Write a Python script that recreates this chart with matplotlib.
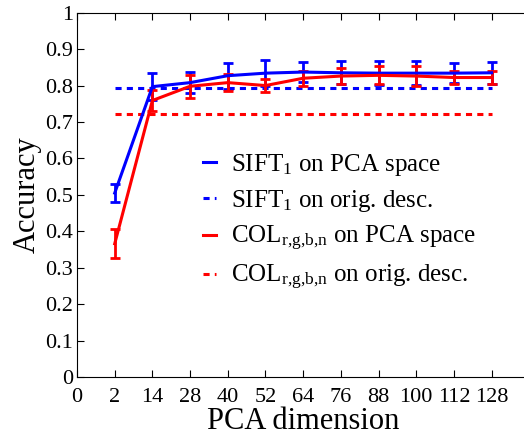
import numpy as np
from matplotlib import pyplot as plt
from matplotlib.lines import Line2D

## accuracy vs. number of PCA dimensions, SIFT and colour descriptors

dims = ['0', '2', '14', '28', '40', '52', '64', '76', '88', '100', '112', '128']

sift_pca = [0.505, 0.797, 0.808, 0.827, 0.834, 0.837, 0.835, 0.834, 0.834, 0.834, 0.835]
sift_err = [0.024, 0.038, 0.028, 0.036, 0.036, 0.027, 0.032, 0.033, 0.032, 0.027, 0.030]
col_pca = [0.366, 0.759, 0.798, 0.808, 0.800, 0.820, 0.826, 0.828, 0.826, 0.822, 0.822]
col_err = [0.040, 0.029, 0.031, 0.023, 0.019, 0.020, 0.022, 0.025, 0.027, 0.019, 0.017]

sift_orig = 0.794
col_orig = 0.721

plt.rcParams['font.family'] = 'Liberation Serif'
plt.rcParams['mathtext.fontset'] = 'custom'
plt.rcParams['mathtext.rm'] = 'Liberation Serif'
plt.rcParams['mathtext.it'] = 'Liberation Serif:italic'

fig = plt.figure(figsize=(5.24, 4.36), dpi=100)
ax = fig.add_axes([0.147, 0.135, 0.863, 0.836])

x = np.arange(1, len(dims))
dotted = (0, (2, 1.7))

ax.errorbar(x, sift_pca, yerr=sift_err, color='blue', lw=2.2,
			elinewidth=2, capsize=3.5, capthick=2)
ax.plot([x[0], x[-1]], [sift_orig, sift_orig], color='blue', lw=2.2, linestyle=dotted)
ax.errorbar(x, col_pca, yerr=col_err, color='red', lw=2.2,
			elinewidth=2, capsize=3.5, capthick=2)
ax.plot([x[0], x[-1]], [col_orig, col_orig], color='red', lw=2.2, linestyle=dotted)

ax.set_xlim(0, 12)
ax.set_ylim(0, 1)
ax.set_xticks(np.arange(len(dims)))
ax.set_xticklabels(dims)
yt = np.arange(0, 1.01, 0.1)
ax.set_yticks(yt)
ax.set_yticklabels(['0'] + ['%.1f' % v for v in yt[1:-1]] + ['1'])
ax.tick_params(direction='in', length=5, width=0.8, labelsize=16, top=True)
ax.tick_params(axis='x', pad=8)
ax.tick_params(axis='y', pad=3)

ax.set_xlabel('PCA dimension', fontsize=22, labelpad=0)
ax.set_ylabel('Accuracy', fontsize=22, labelpad=2)

# legend handles: short plain segments, no error bars
handles = [
	Line2D([], [], color='blue', lw=2.2),
	Line2D([], [], color='blue', lw=2.2, linestyle=dotted),
	Line2D([], [], color='red', lw=2.2),
	Line2D([], [], color='red', lw=2.2, linestyle=dotted),
]
labels = [
	r'SIFT$_\mathregular{1}$ on PCA space',
	r'SIFT$_\mathregular{1}$ on orig. desc.',
	r'COL$_\mathregular{r{,}g{,}b{,}n}$ on PCA space',
	r'COL$_\mathregular{r{,}g{,}b{,}n}$ on orig. desc.',
]
ax.legend(handles, labels, loc='upper left', bbox_to_anchor=(0.257, 0.645), frameon=False,
		  fontsize=18, handlelength=0.5, handletextpad=0.6,
		  labelspacing=0.4, borderaxespad=0)

fig.savefig('out.png', dpi=100)
